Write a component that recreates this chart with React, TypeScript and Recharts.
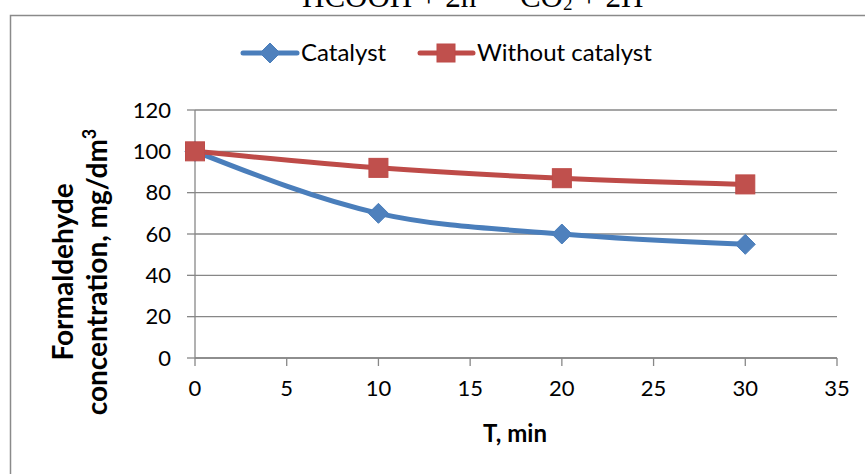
import React from 'react';
import { LineChart, Line, XAxis, YAxis, CartesianGrid, Legend } from 'recharts';

const times = [0, 10, 20, 30];
const catalyst = [100, 70, 60, 55];
const withoutCatalyst = [100, 92, 87, 84];
const xTicks = [0, 5, 10, 15, 20, 25, 30, 35];
const yTicks = [0, 20, 40, 60, 80, 100, 120];

const BLUE = '#4A7EBB';
const BLUE_FILL = '#4F81BD';
const RED = '#BE4B48';
const RED_FILL = '#C0504D';
const GRID = '#878787';
const FONT = 'Lato, "Open Sans", sans-serif';

const data = times.map((t, i) => ({
  t,
  catalyst: catalyst[i],
  without: withoutCatalyst[i],
}));

const Diamond = ({ cx, cy, size = 10 }: any) => (
  <path
    d={`M${cx},${cy - size} L${cx + size},${cy} L${cx},${cy + size} L${cx - size},${cy} Z`}
    fill={BLUE_FILL}
    stroke={BLUE}
    strokeWidth={1}
  />
);

const Square = ({ cx, cy, size = 9.5 }: any) => (
  <rect x={cx - size} y={cy - size} width={size * 2} height={size * 2} fill={RED_FILL} stroke={RED} strokeWidth={1} />
);

const LegendContent = () => (
  <svg width={865} height={40} style={{ display: 'block' }}>
    <g>
      <line x1={243} y1={20} x2={297} y2={20} stroke={BLUE} strokeWidth={5} strokeLinecap="round" />
      <Diamond cx={270} cy={20} size={10} />
      <text x={301} y={28} fontFamily={FONT} fontSize={24} fill="#000">Catalyst</text>
    </g>
    <g>
      <line x1={420} y1={20} x2={473} y2={20} stroke={RED} strokeWidth={5} strokeLinecap="round" />
      <Square cx={446} cy={20} size={9} />
      <text x={477} y={28} fontFamily={FONT} fontSize={24} fill="#000">Without catalyst</text>
    </g>
  </svg>
);

export default function App() {
  return (
    <div style={{ position: 'absolute', left: 0, top: 0, width: 865, height: 474, background: '#fff', overflow: 'hidden' }}>
      <svg width={865} height={474} style={{ position: 'absolute', left: 0, top: 0 }}>
        {/* equation above the chart, cropped at the top like the source */}
        <text x={302} y={7} fontFamily='"Liberation Serif", serif' fontSize={31} fill="#000">
          HCOOH + 2h<tspan dy={-12} fontSize={19}>+</tspan><tspan dy={12}> = CO</tspan><tspan dy={3} fontSize={19}>2</tspan><tspan dy={-3}> + 2H</tspan><tspan dy={-12} fontSize={19}>+</tspan>
        </text>
        <path d="M10.5,500 L10.5,15.5 L870,15.5" fill="none" stroke="#8A8A8A" strokeWidth={1.5} />
        <g fontFamily={FONT} fontWeight="bold" fontSize={28} fill="#000">
          <text transform="translate(73,272) rotate(-90)" textAnchor="middle">Formaldehyde</text>
          <text transform="translate(107,272) rotate(-90)" textAnchor="middle">
            concentration, mg/dm<tspan baselineShift="super" fontSize={18}>3</tspan>
          </text>
        </g>
        <text x={515} y={442} textAnchor="middle" fontFamily={FONT} fontWeight="bold" fontSize={24} fill="#000">T, min</text>
      </svg>
      <div style={{ position: 'absolute', left: 0, top: 0 }}>
        <LineChart width={865} height={474} data={data} margin={{ top: 110, right: 28, bottom: 0, left: 10 }}>
          <CartesianGrid vertical={false} stroke={GRID} strokeWidth={1.3} />
          <XAxis
            dataKey="t"
            type="number"
            domain={[0, 35]}
            ticks={xTicks}
            interval={0}
            height={116}
            tickSize={8}
            tickMargin={14}
            axisLine={{ stroke: GRID, strokeWidth: 1.3 }}
            tickLine={{ stroke: GRID, strokeWidth: 1.3 }}
            tick={{ fill: '#000', fontSize: 22, fontFamily: FONT }}
          />
          <YAxis
            type="number"
            domain={[0, 120]}
            ticks={yTicks}
            interval={0}
            width={185}
            tickSize={8}
            tickMargin={16}
            axisLine={{ stroke: GRID, strokeWidth: 1.3 }}
            tickLine={{ stroke: GRID, strokeWidth: 1.3 }}
            tick={{ fill: '#000', fontSize: 22, fontFamily: FONT }}
          />
          <Legend
            verticalAlign="middle"
            align="center"
            content={LegendContent}
            wrapperStyle={{ top: 33, left: 0, width: 865, height: 40 }}
          />
          <Line
            type="monotone"
            dataKey="catalyst"
            name="Catalyst"
            stroke={BLUE}
            strokeWidth={5}
            dot={(p: any) => <Diamond key={`d-${p.index}`} cx={p.cx} cy={p.cy} />}
            activeDot={false}
            isAnimationActive={false}
          />
          <Line
            type="monotone"
            dataKey="without"
            name="Without catalyst"
            stroke={RED}
            strokeWidth={5}
            dot={(p: any) => <Square key={`s-${p.index}`} cx={p.cx} cy={p.cy} />}
            activeDot={false}
            isAnimationActive={false}
          />
        </LineChart>
      </div>
    </div>
  );
}
